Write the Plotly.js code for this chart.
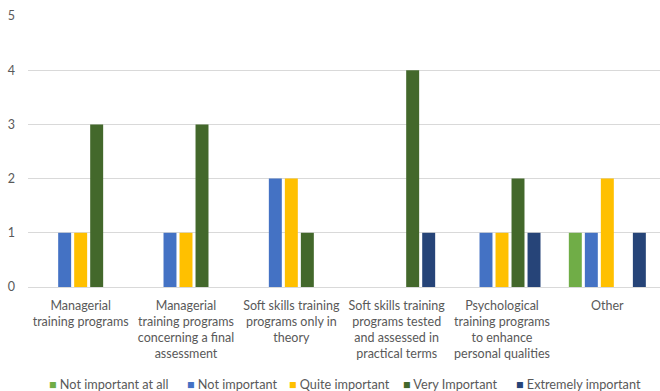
<!DOCTYPE html>
<html>
<head>
<meta charset="utf-8">
<script src="https://cdn.plot.ly/plotly-3.0.1.min.js"></script>
<style>html,body{margin:0;padding:0;background:#fff;}#chart{width:660px;height:391px;}</style>
</head>
<body>
<div id="chart"></div>
<script>
const categories = [
  "Managerial<br>training programs",
  "Managerial<br>training programs<br>concerning a final<br>assessment",
  "Soft skills training<br>programs only in<br>theory",
  "Soft skills training<br>programs tested<br>and assessed in<br>practical terms",
  "Psychological<br>training programs<br>to enhance<br>personal qualities",
  "Other"
];
const seriesNames = ["Not important at all", "Not important", "Quite important", "Very Important", "Extremely important"];
const notImportantAtAll = [0, 0, 0, 0, 0, 1];
const notImportant = [1, 1, 2, 0, 1, 1];
const quiteImportant = [1, 1, 2, 0, 1, 2];
const veryImportant = [3, 3, 1, 4, 2, 0];
const extremelyImportant = [0, 0, 0, 1, 1, 1];
const yTicks = [0, 1, 2, 3, 4, 5];

const colors = ["#70AD47", "#4472C4", "#FFC000", "#43682B", "#264478"];
const values = [notImportantAtAll, notImportant, quiteImportant, veryImportant, extremelyImportant];
// legend entry left edges in page pixels (single-row legend below the chart)
const legendEntryX = [47, 185, 287, 401, 514];

const W = 660, H = 391;
const margin = {l: 28, r: 0, t: 16, b: 104};
const plotW = W - margin.l - margin.r;
const plotH = H - margin.t - margin.b;

const traces = values.map((v, i) => ({
  type: "bar",
  name: seriesNames[i],
  x: categories,
  y: v,
  marker: {color: colors[i], line: {width: 0}},
  hoverinfo: "none",
  showlegend: false
}));

const font = {family: "Lato, Roboto, sans-serif", size: 12.5, color: "#595959"};
const legendFont = {family: "Lato, Roboto, sans-serif", size: 12.7, color: "#595959"};

const legendAnnotations = seriesNames.map((name, i) => ({
  xref: "paper", yref: "paper",
  x: (legendEntryX[i] - margin.l) / plotW,
  y: (H - margin.b - 384) / plotH,
  xanchor: "left", yanchor: "middle",
  showarrow: false,
  align: "left",
  font: legendFont,
  text: '<span style="color:' + colors[i] + ';font-size:12.5px">■</span> ' + name
}));

const layout = {
  width: W,
  height: H,
  margin: margin,
  paper_bgcolor: "#ffffff",
  plot_bgcolor: "#ffffff",
  barmode: "group",
  bargap: 0.24,
  bargroupgap: 0.19,
  font: font,
  showlegend: false,
  annotations: legendAnnotations,
  xaxis: {
    type: "category",
    tickfont: font,
    showgrid: false,
    showline: false,
    ticks: "",
    tickangle: 0,
    ticklabelstandoff: 9,
    automargin: false
  },
  yaxis: {
    range: [0, 5],
    tickvals: yTicks,
    tickfont: font,
    showgrid: true,
    gridcolor: "#D9D9D9",
    gridwidth: 1,
    zeroline: true,
    zerolinecolor: "#D9D9D9",
    zerolinewidth: 1,
    showline: false,
    ticks: "",
    ticklabelstandoff: 12,
    automargin: false,
    fixedrange: true
  }
};

Plotly.newPlot("chart", traces, layout, {staticPlot: true, displayModeBar: false});
</script>
</body>
</html>
